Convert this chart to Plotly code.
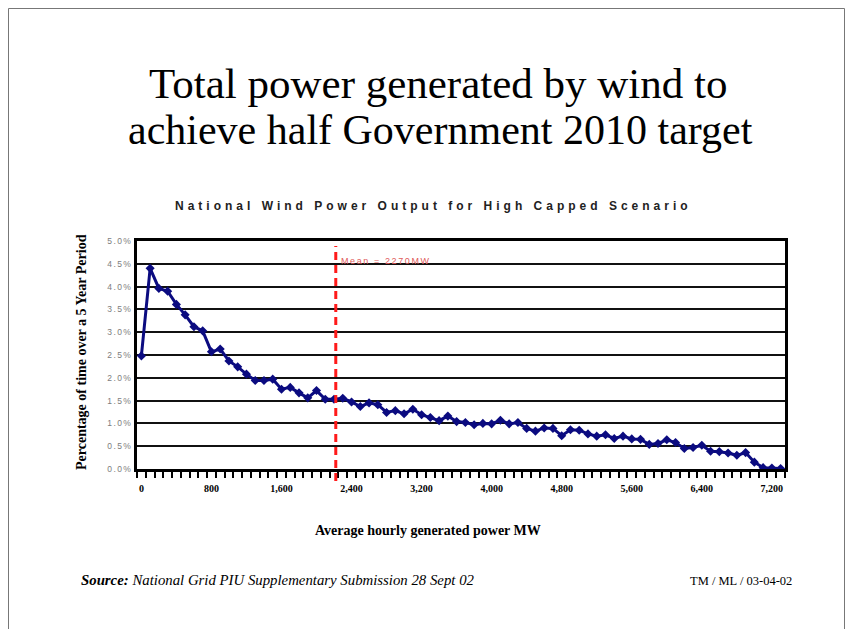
import plotly.graph_objects as go

# ---------------- data ----------------
bin_start_mw = list(range(0, 7400, 100))          # 100 MW bins, 0 .. 7300
pct_time = [2.48, 4.40, 3.96, 3.90, 3.61, 3.38, 3.12, 3.03, 2.57, 2.63,
            2.37, 2.24, 2.08, 1.94, 1.94, 1.97, 1.75, 1.79, 1.67, 1.56,
            1.72, 1.53, 1.53, 1.55, 1.47, 1.37, 1.45, 1.41, 1.24, 1.28,
            1.21, 1.31, 1.19, 1.13, 1.06, 1.16, 1.04, 1.02, 0.97, 1.00,
            0.99, 1.07, 0.99, 1.02, 0.89, 0.83, 0.90, 0.89, 0.73, 0.86,
            0.85, 0.77, 0.72, 0.75, 0.67, 0.72, 0.66, 0.65, 0.54, 0.56,
            0.64, 0.58, 0.45, 0.47, 0.52, 0.39, 0.38, 0.35, 0.30, 0.36,
            0.15, 0.03, 0.02, 0.01]
mean_mw = 2270
x_tick_bins = [0, 800, 1600, 2400, 3200, 4000, 4800, 5600, 6400, 7200]
x_tick_labels = ["0", "800", "1,600", "2,400", "3,200", "4,000", "4,800", "5,600", "6,400", "7,200"]
y_tick_vals = [0, 0.5, 1.0, 1.5, 2.0, 2.5, 3.0, 3.5, 4.0, 4.5, 5.0]
y_tick_labels = ["0.0%", "0.5%", "1.0%", "1.5%", "2.0%", "2.5%", "3.0%", "3.5%", "4.0%", "4.5%", "5.0%"]

BIN = 100
x_centre = [b + BIN / 2 for b in bin_start_mw]    # category slot centres
x_tick_vals = [b + BIN / 2 for b in x_tick_bins]

# ---------------- layout helpers (page pixel -> paper) ----------------
W, H = 837, 621
L, R, T, B = 129, 60, 233, 160
PW, PH = W - L - R, H - T - B


def px(X):
    return (X - 8 - L) / PW


def py(Y):
    return (H - B - (Y - 8)) / PH


fig = go.Figure()
fig.add_trace(go.Scatter(
    x=x_centre, y=pct_time, mode="lines+markers",
    line=dict(color="#0b0b80", width=3),
    marker=dict(symbol="diamond", size=7, color="#0b0b80"),
    showlegend=False, hoverinfo="x+y"))

serif = "Liberation Serif, Times New Roman, serif"
sans = "Liberation Sans, Arial, sans-serif"

fig.update_layout(
    width=W, height=H, autosize=False,
    margin=dict(l=L, r=R, t=T, b=B),
    paper_bgcolor="white", plot_bgcolor="white",
    xaxis=dict(range=[0, 7400], tickvals=x_tick_vals, ticktext=x_tick_labels,
               ticks="outside", ticklen=8, tickcolor="rgba(0,0,0,0)",
               tickfont=dict(family=serif, size=10, color="black", weight="bold"),
               showgrid=False, zeroline=False,
               showline=True, linecolor="black", linewidth=3, mirror=True,
               minor=dict(ticks="outside", tick0=0, dtick=100, ticklen=6,
                          tickcolor="black", tickwidth=2, showgrid=False)),
    yaxis=dict(range=[0, 5], tickvals=y_tick_vals,
               ticktext=['<span style="letter-spacing:1.4px">%s</span>' % t for t in y_tick_labels],
               ticks="", tickfont=dict(family=sans, size=8.5, color="#7d7d7d"),
               showgrid=True, gridcolor="#111111", gridwidth=2, zeroline=False,
               showline=True, linecolor="black", linewidth=3, mirror=True),
)

# mean line
fig.add_shape(type="line", xref="x", yref="paper", x0=mean_mw, x1=mean_mw,
              y0=py(481), y1=py(246), line=dict(color="#ff1a1a", width=3, dash="8px,5px"))
fig.add_annotation(xref="x", yref="paper", x=mean_mw, y=py(261), xanchor="left", yanchor="middle",
                   xshift=3, showarrow=False,
                   text='<span style="letter-spacing:1.6px">Mean = %dMW</span>' % mean_mw,
                   font=dict(family=sans, size=9, color="#e05a5a"))

# titles
fig.add_annotation(xref="paper", yref="paper", x=px(438), y=py(83), xanchor="center", yanchor="middle",
                   showarrow=False, text="Total power generated by wind to",
                   font=dict(family=serif, size=43, color="black"))
fig.add_annotation(xref="paper", yref="paper", x=px(440), y=py(130), xanchor="center", yanchor="middle",
                   showarrow=False, text="achieve half Government 2010 target",
                   font=dict(family=serif, size=42, color="black"))
fig.add_annotation(xref="paper", yref="paper", x=px(433), y=py(206), xanchor="center", yanchor="middle",
                   showarrow=False,
                   text='<span style="letter-spacing:4px">National Wind Power Output for High Capped Scenario</span>',
                   font=dict(family=sans, size=12, color="#222222", weight="bold"))

# axis titles
fig.add_annotation(xref="paper", yref="paper", x=px(81), y=py(352), xanchor="center", yanchor="middle",
                   showarrow=False, textangle=-90,
                   text="Percentage of time over a 5 Year Period",
                   font=dict(family=serif, size=14, color="black", weight="bold"))
fig.add_annotation(xref="paper", yref="paper", x=px(428), y=py(530), xanchor="center", yanchor="middle",
                   showarrow=False, text="Average hourly generated power MW",
                   font=dict(family=serif, size=14, color="black", weight="bold"))

# footer
fig.add_annotation(xref="paper", yref="paper", x=px(79), y=py(580), xanchor="left", yanchor="middle",
                   showarrow=False,
                   text="<b><i>Source:</i></b><i> National Grid PIU Supplementary Submission 28 Sept 02</i>",
                   font=dict(family=serif, size=14.8, color="black"))
fig.add_annotation(xref="paper", yref="paper", x=px(794), y=py(581), xanchor="right", yanchor="middle",
                   showarrow=False, text="TM / ML / 03-04-02",
                   font=dict(family=serif, size=12.5, color="black"))

# slide frame
fig.add_shape(type="rect", xref="paper", yref="paper",
              x0=px(8.5), x1=px(844.5), y0=py(629.5), y1=py(8.5),
              line=dict(color="#777777", width=1), layer="below")

fig.write_html("out.html")
